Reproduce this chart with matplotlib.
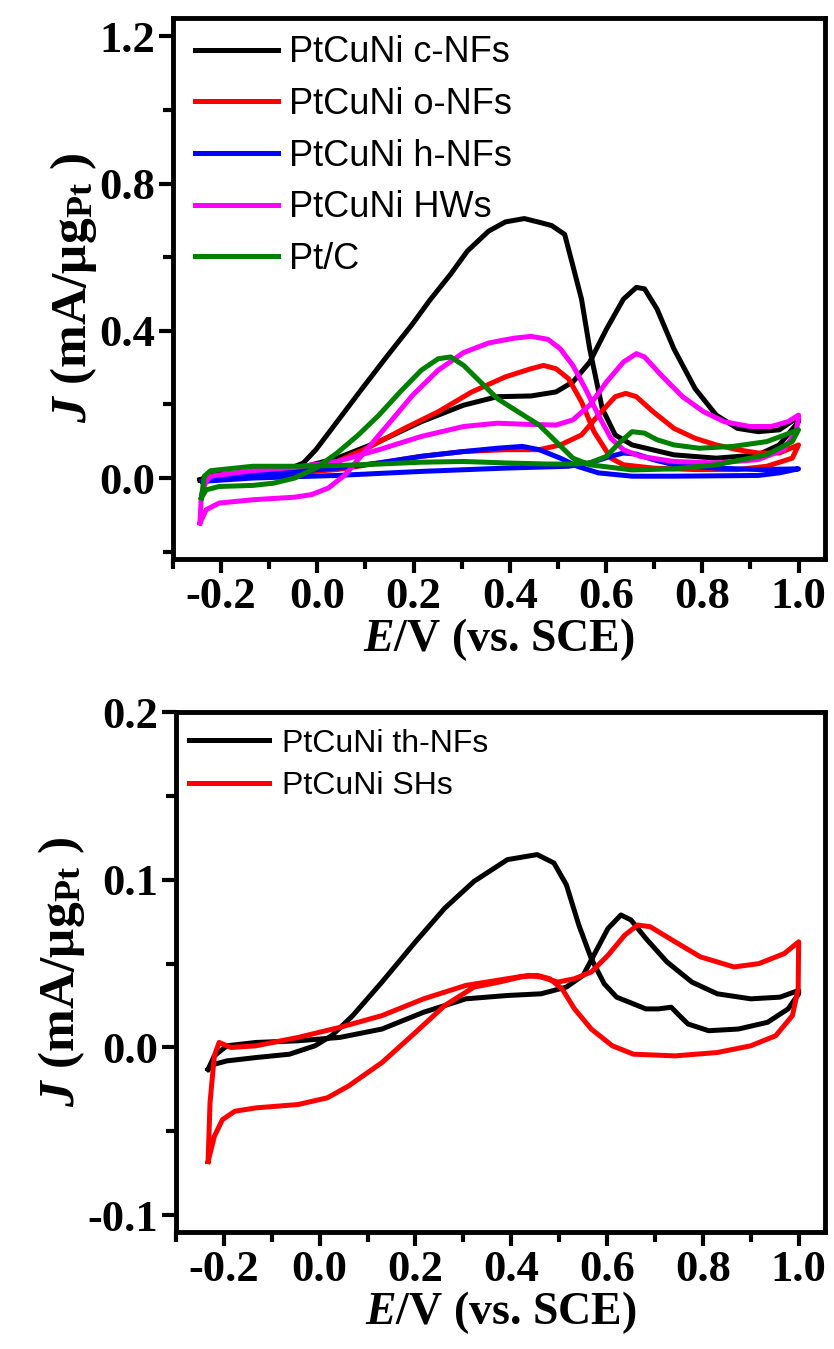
import matplotlib
matplotlib.use('Agg')
import matplotlib.pyplot as plt
from matplotlib.ticker import MultipleLocator, FormatStrFormatter

# ---- cyclic voltammograms, upper panel (forward scan then reverse scan) ----
e_cnf_fwd = [-0.244, -0.222, -0.134, -0.047, 0.041, 0.128, 0.216, 0.304, 0.374, 0.444, 0.496, 0.531, 0.566,
             0.601, 0.636, 0.663, 0.680, 0.706, 0.741, 0.785, 0.829, 0.873, 0.916, 0.960, 0.995, 1.0]
j_cnf_fwd = [-0.005, 0.008, 0.016, 0.024, 0.054, 0.099, 0.153, 0.198, 0.221, 0.223, 0.234, 0.261, 0.315,
             0.405, 0.486, 0.518, 0.514, 0.459, 0.351, 0.243, 0.171, 0.135, 0.126, 0.131, 0.162, 0.168]
e_cnf_rev = [1.0, 0.960, 0.916, 0.829, 0.741, 0.654, 0.619, 0.592, 0.566, 0.549, 0.531, 0.514, 0.487, 0.461,
             0.430, 0.391, 0.356, 0.312, 0.277, 0.233, 0.198, 0.146, 0.093, 0.041, -0.003, -0.029, -0.064,
             -0.134, -0.222, -0.244]
j_cnf_rev = [0.153, 0.090, 0.063, 0.054, 0.063, 0.090, 0.117, 0.189, 0.351, 0.486, 0.577, 0.662, 0.686, 0.695,
             0.705, 0.696, 0.671, 0.617, 0.554, 0.482, 0.419, 0.333, 0.243, 0.153, 0.077, 0.041, 0.022,
             0.008, -0.002, -0.005]

e_onf_fwd = [-0.239, -0.134, 0.041, 0.216, 0.304, 0.391, 0.461, 0.505, 0.549, 0.584, 0.619, 0.641, 0.663,
             0.698, 0.741, 0.785, 0.829, 0.873, 0.916, 0.960, 1.0]
j_onf_fwd = [-0.009, 0.005, 0.023, 0.059, 0.072, 0.077, 0.077, 0.090, 0.117, 0.171, 0.221, 0.230, 0.221,
             0.180, 0.135, 0.108, 0.090, 0.077, 0.068, 0.068, 0.090]
e_onf_rev = [1.0, 0.987, 0.934, 0.873, 0.785, 0.698, 0.636, 0.610, 0.575, 0.549, 0.522, 0.496, 0.470, 0.444,
             0.391, 0.321, 0.251, 0.181, 0.111, 0.041, -0.020, -0.091, -0.178, -0.239]
j_onf_rev = [0.090, 0.054, 0.032, 0.023, 0.023, 0.027, 0.036, 0.054, 0.126, 0.207, 0.270, 0.297, 0.306, 0.297,
             0.275, 0.234, 0.180, 0.135, 0.086, 0.045, 0.027, 0.014, 0.005, -0.009]

e_hnf_fwd = [-0.239, -0.134, 0.041, 0.216, 0.391, 0.522, 0.566, 0.610, 0.636, 0.663, 0.698, 0.741, 0.829,
             0.916, 1.0]
j_hnf_fwd = [-0.009, 0.0, 0.007, 0.018, 0.027, 0.032, 0.041, 0.059, 0.068, 0.065, 0.050, 0.036, 0.027,
             0.023, 0.025]
e_hnf_rev = [1.0, 0.960, 0.916, 0.741, 0.654, 0.584, 0.540, 0.505, 0.461, 0.426, 0.374, 0.304, 0.216, 0.128,
             0.041, -0.047, -0.134, -0.239]
j_hnf_rev = [0.025, 0.014, 0.007, 0.005, 0.005, 0.014, 0.032, 0.054, 0.077, 0.086, 0.081, 0.072, 0.059, 0.041,
             0.027, 0.018, 0.009, -0.009]

e_hw_fwd = [-0.244, -0.241, -0.231, -0.222, -0.134, -0.047, 0.041, 0.128, 0.216, 0.304, 0.374, 0.435, 0.496,
            0.531, 0.566, 0.601, 0.636, 0.663, 0.680, 0.715, 0.759, 0.803, 0.846, 0.899, 0.943, 0.978, 1.0]
j_hw_fwd = [-0.122, -0.045, -0.009, 0.005, 0.020, 0.029, 0.045, 0.077, 0.113, 0.140, 0.149, 0.146, 0.144,
            0.158, 0.198, 0.261, 0.315, 0.338, 0.329, 0.279, 0.221, 0.180, 0.153, 0.140, 0.140, 0.153, 0.171]
e_hw_rev = [1.0, 0.995, 0.969, 0.916, 0.829, 0.741, 0.671, 0.636, 0.610, 0.584, 0.557, 0.531, 0.505, 0.479,
            0.444, 0.409, 0.356, 0.304, 0.251, 0.198, 0.146, 0.093, 0.058, 0.023, -0.012, -0.047, -0.134,
            -0.204, -0.231, -0.244]
j_hw_rev = [0.162, 0.126, 0.077, 0.050, 0.041, 0.045, 0.059, 0.077, 0.108, 0.171, 0.243, 0.306, 0.351, 0.377,
            0.385, 0.380, 0.367, 0.341, 0.293, 0.225, 0.144, 0.063, 0.009, -0.027, -0.045, -0.052, -0.059,
            -0.068, -0.086, -0.122]

e_ptc_fwd = [-0.241, -0.235, -0.222, -0.134, -0.047, 0.041, 0.128, 0.216, 0.304, 0.391, 0.479, 0.531, 0.566,
             0.601, 0.627, 0.654, 0.680, 0.706, 0.741, 0.794, 0.864, 0.934, 1.0]
j_ptc_fwd = [-0.054, 0.005, 0.020, 0.032, 0.032, 0.034, 0.038, 0.043, 0.045, 0.041, 0.038, 0.038, 0.041,
             0.059, 0.095, 0.126, 0.122, 0.104, 0.090, 0.081, 0.086, 0.099, 0.131]
e_ptc_rev = [1.0, 0.987, 0.934, 0.829, 0.741, 0.654, 0.566, 0.531, 0.496, 0.461, 0.417, 0.374, 0.339, 0.304,
             0.277, 0.251, 0.216, 0.172, 0.128, 0.085, 0.041, -0.003, -0.047, -0.091, -0.134, -0.204, -0.231,
             -0.241]
j_ptc_rev = [0.131, 0.099, 0.063, 0.036, 0.025, 0.022, 0.036, 0.054, 0.099, 0.144, 0.180, 0.216, 0.261, 0.306,
             0.329, 0.324, 0.293, 0.234, 0.171, 0.117, 0.068, 0.027, 0.0, -0.014, -0.020, -0.023, -0.032,
             -0.054]

# ---- lower panel ----
e_thnf_fwd = [-0.233, -0.220, -0.194, -0.133, -0.045, 0.042, 0.130, 0.217, 0.305, 0.392, 0.462, 0.515, 0.550,
              0.576, 0.602, 0.629, 0.650, 0.681, 0.725, 0.777, 0.830, 0.900, 0.961, 1.0]
j_thnf_fwd = [-0.013, -0.005, 0.001, 0.003, 0.004, 0.006, 0.011, 0.021, 0.029, 0.031, 0.032, 0.036, 0.043,
              0.057, 0.071, 0.079, 0.076, 0.065, 0.051, 0.039, 0.032, 0.029, 0.030, 0.034]
e_thnf_rev = [1.0, 0.978, 0.935, 0.874, 0.812, 0.769, 0.751, 0.734, 0.707, 0.681, 0.655, 0.620, 0.594, 0.567,
              0.541, 0.515, 0.489, 0.454, 0.392, 0.322, 0.261, 0.200, 0.130, 0.069, 0.025, -0.010, -0.063,
              -0.133, -0.194, -0.220, -0.233]
j_thnf_rev = [0.032, 0.023, 0.015, 0.011, 0.010, 0.014, 0.019, 0.024, 0.023, 0.023, 0.026, 0.030, 0.038, 0.053,
              0.073, 0.097, 0.110, 0.115, 0.112, 0.099, 0.083, 0.063, 0.039, 0.019, 0.007, 0.001, -0.004,
              -0.006, -0.008, -0.010, -0.013]

e_sh_fwd = [-0.233, -0.229, -0.220, -0.210, -0.185, -0.133, -0.045, 0.042, 0.130, 0.217, 0.305, 0.392, 0.436,
            0.462, 0.497, 0.532, 0.567, 0.602, 0.637, 0.664, 0.690, 0.742, 0.795, 0.865, 0.917, 0.970, 1.0]
j_sh_fwd = [-0.068, -0.033, -0.005, 0.003, 0.000, 0.001, 0.006, 0.012, 0.019, 0.029, 0.037, 0.041, 0.043,
            0.042, 0.039, 0.041, 0.045, 0.055, 0.067, 0.073, 0.072, 0.063, 0.054, 0.048, 0.050, 0.056, 0.063]
e_sh_rev = [1.0, 0.999, 0.987, 0.952, 0.900, 0.830, 0.742, 0.655, 0.611, 0.567, 0.532, 0.506, 0.480, 0.454,
            0.419, 0.375, 0.322, 0.261, 0.200, 0.130, 0.060, 0.016, -0.045, -0.133, -0.177, -0.203, -0.220,
            -0.233]
j_sh_rev = [0.063, 0.035, 0.019, 0.007, 0.001, -0.003, -0.005, -0.004, 0.001, 0.011, 0.023, 0.035, 0.041,
            0.043, 0.042, 0.039, 0.036, 0.025, 0.009, -0.009, -0.023, -0.030, -0.034, -0.036, -0.038, -0.043,
            -0.053, -0.068]

top_series = [
    ('PtCuNi c-NFs', 'black', e_cnf_fwd + e_cnf_rev, j_cnf_fwd + j_cnf_rev),
    ('PtCuNi o-NFs', '#ff0000', e_onf_fwd + e_onf_rev, j_onf_fwd + j_onf_rev),
    ('PtCuNi h-NFs', '#0000ff', e_hnf_fwd + e_hnf_rev, j_hnf_fwd + j_hnf_rev),
    ('PtCuNi HWs', '#ff00ff', e_hw_fwd + e_hw_rev, j_hw_fwd + j_hw_rev),
    ('Pt/C', '#008000', e_ptc_fwd + e_ptc_rev, j_ptc_fwd + j_ptc_rev),
]
bottom_series = [
    ('PtCuNi th-NFs', 'black', e_thnf_fwd + e_thnf_rev, j_thnf_fwd + j_thnf_rev),
    ('PtCuNi SHs', '#ff0000', e_sh_fwd + e_sh_rev, j_sh_fwd + j_sh_rev),
]

plt.rcParams['font.family'] = 'Liberation Serif'
plt.rcParams['font.weight'] = 'bold'
plt.rcParams['mathtext.fontset'] = 'custom'
plt.rcParams['mathtext.rm'] = 'Liberation Serif:bold'
plt.rcParams['mathtext.bf'] = 'Liberation Serif:bold'
plt.rcParams['mathtext.it'] = 'Liberation Serif:italic:bold'
plt.rcParams['mathtext.bfit'] = 'Liberation Serif:italic:bold'

W, H = 834, 1349
fig = plt.figure(figsize=(W / 100, H / 100), dpi=100)
ax1 = fig.add_axes([173 / W, 1 - 559 / H, (825 - 173) / W, (559 - 18) / H])
ax2 = fig.add_axes([176 / W, 1 - 1232 / H, (825 - 176) / W, (1232 - 712) / H])


def style(ax, ylim, ymaj, ymin):
    ax.set_xlim(-0.3, 1.055)
    ax.set_ylim(*ylim)
    ax.xaxis.set_major_locator(MultipleLocator(0.2))
    ax.xaxis.set_minor_locator(MultipleLocator(0.1))
    ax.yaxis.set_major_locator(MultipleLocator(ymaj))
    ax.yaxis.set_minor_locator(MultipleLocator(ymin))
    ax.xaxis.set_major_formatter(FormatStrFormatter('%.1f'))
    ax.yaxis.set_major_formatter(FormatStrFormatter('%.1f'))
    for s in ax.spines.values():
        s.set_linewidth(3.5)
    ax.tick_params(which='both', direction='out', width=3, labelsize=32, pad=3)
    ax.tick_params(which='major', length=10)
    ax.tick_params(which='minor', length=7)
    for lab in ax.get_xticklabels() + ax.get_yticklabels():
        lab.set_fontweight('bold')
    ax.set_xlabel(r'$\mathbfit{E}$/V (vs. SCE)', fontsize=33, fontweight='bold', labelpad=-1)
    ax.set_ylabel(r'$\mathbfit{J}$ (mA/μg$_{\mathbf{Pt}}$ )', fontsize=37, fontweight='bold', labelpad=0)


for name, c, e, j in top_series:
    ax1.plot(e, j, color=c, lw=3.6, label=name, solid_joinstyle='round')
for name, c, e, j in bottom_series:
    ax2.plot(e, j, color=c, lw=3.6, label=name, solid_joinstyle='round')

style(ax1, (-0.22, 1.25), 0.4, 0.2)
style(ax2, (-0.11, 0.2), 0.1, 0.05)

ax1.legend(loc='upper left', bbox_to_anchor=(0.034, 0.968), frameon=False, borderpad=0, borderaxespad=0,
           handlelength=2.3, handletextpad=0.3, labelspacing=0.46,
           prop={'family': 'Liberation Sans', 'weight': 'normal', 'size': 26})
ax2.legend(loc='upper left', bbox_to_anchor=(0.02, 0.968), frameon=False, borderpad=0, borderaxespad=0,
           handlelength=2.5, handletextpad=0.4, labelspacing=0.4,
           prop={'family': 'Liberation Sans', 'weight': 'normal', 'size': 23})

fig.savefig('out.png', dpi=100)
